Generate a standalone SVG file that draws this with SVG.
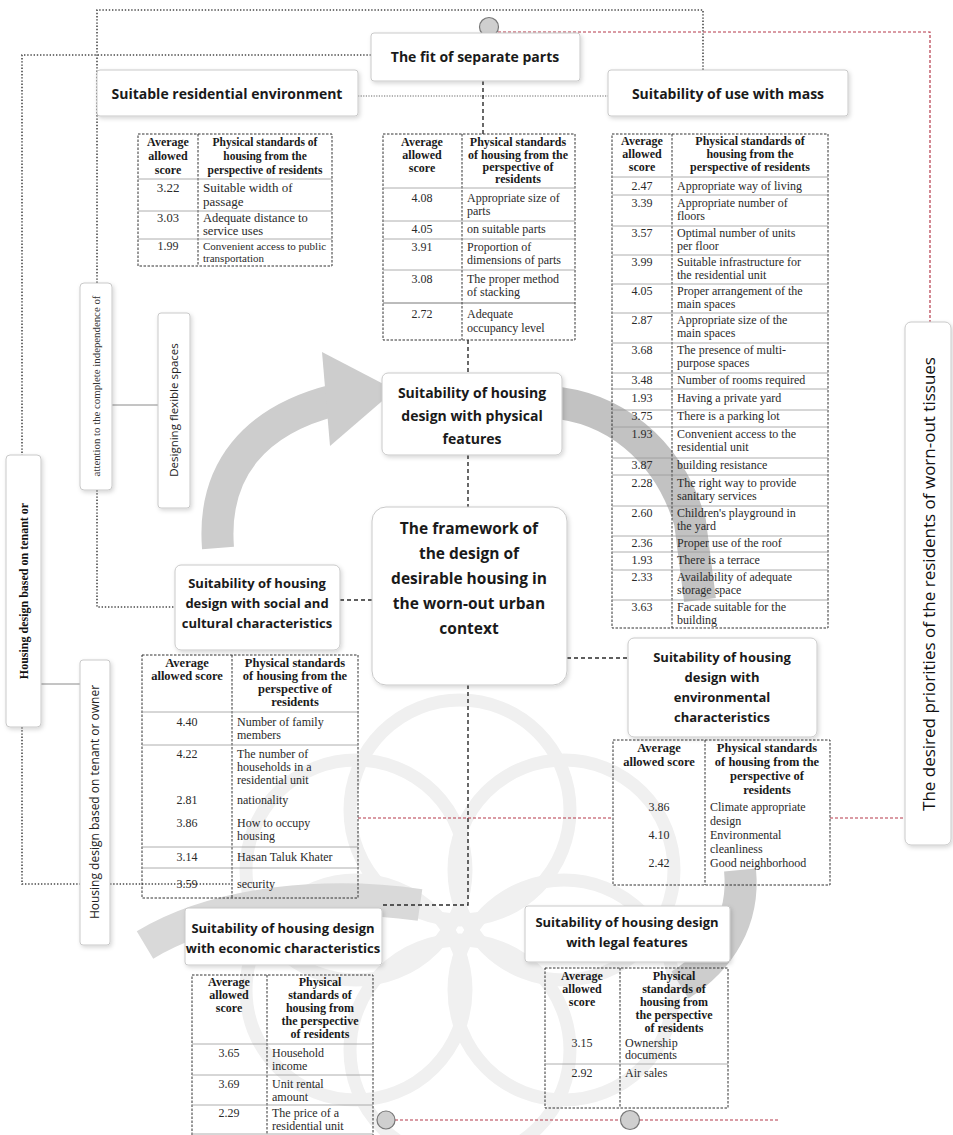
<svg xmlns="http://www.w3.org/2000/svg" width="953" height="1135" viewBox="0 0 953 1135">
<defs>
<filter id="sh" x="-10%" y="-10%" width="130%" height="140%">
<feDropShadow dx="1.5" dy="2" stdDeviation="2" flood-color="#000" flood-opacity="0.16"/>
</filter>
<style>
.bx{fill:#fff;stroke:#c9c9c9;stroke-width:1;filter:url(#sh)}
.bt{font-family:"Open Sans","Noto Sans",sans-serif;font-weight:700;font-size:13px;fill:#1a1a1a;text-anchor:middle}
.tb{fill:none;stroke:#333;stroke-width:1;stroke-dasharray:2.5 1.5}
.rs{stroke:#9a9a9a;stroke-width:0.8}
.h{font-family:"Liberation Serif",serif;font-weight:700;font-size:12px;fill:#1a1a1a;text-anchor:middle}
.c{font-family:"Liberation Serif",serif;font-size:12px;fill:#2a2a2a}
.n{font-family:"Liberation Serif",serif;font-size:12px;fill:#2a2a2a;text-anchor:middle}
.dot{fill:none;stroke:#4a4a4a;stroke-width:1.6;stroke-dasharray:1.4 1.8}
.gdot{fill:none;stroke:#9a9a9a;stroke-width:1.6;stroke-dasharray:1.2 1.4}
.dsh{fill:none;stroke:#2a2a2a;stroke-width:1.4;stroke-dasharray:4 3}
.red{fill:none;stroke:#b5394a;stroke-width:1.2;stroke-dasharray:3 2}
.sol{fill:none;stroke:#8a8a8a;stroke-width:1}
.cir{fill:#cfcfcf;stroke:#777;stroke-width:1.2}
.vt{font-family:"Liberation Serif",serif;font-size:10.8px;fill:#333;text-anchor:middle}
.vs{font-family:"Open Sans",sans-serif;font-size:11.5px;fill:#222;text-anchor:middle}
.arr{fill:none;stroke:#cdcdcd;stroke-width:32}
.ahd{fill:#cdcdcd}
.wm{fill:none;stroke:#f0f0f0;stroke-width:13}
</style>
</defs>
<rect x="0" y="0" width="953" height="1135" fill="#fff"/>

<g id="background">
<g class="wm">
<circle cx="460" cy="810" r="110"/>
<circle cx="564" cy="870" r="110"/>
<circle cx="564" cy="990" r="110"/>
<circle cx="460" cy="1050" r="110"/>
<circle cx="356" cy="990" r="110"/>
<circle cx="356" cy="870" r="110"/>
</g>
<path class="arr" d="M218 548 C212 470 255 420 335 400"/>
<polygon class="ahd" points="322,352 395,390 330,446"/>
<path class="arr" d="M548 402 C612 406 668 448 690 522 L700 600" style="stroke:#c2c2c2"/>
<path class="arr" d="M740 870 C745 920 720 960 680 985"/>
<path class="arr" d="M420 905 C330 892 220 900 145 945" style="stroke:#d9d9d9"/>
</g>

<g id="connectors">
<polyline class="dot" points="97,283 97,10 703,10 703,70"/>
<polyline class="dot" points="371,55 22,55 22,455"/>
<polyline class="dot" points="22,727 22,884 80,884"/>
<line class="dot" x1="110" y1="884" x2="232" y2="884"/>
<polyline class="dot" points="97,490 97,607 175,607"/>
<line class="gdot" x1="358" y1="96" x2="608" y2="96"/>
<line class="sol" x1="112" y1="405" x2="158" y2="405"/>
<line class="sol" x1="41" y1="684" x2="80" y2="684"/>
<line class="dsh" x1="483" y1="81" x2="483" y2="134"/>
<line class="dsh" x1="468" y1="340" x2="468" y2="373"/>
<line class="dsh" x1="468" y1="455" x2="468" y2="507"/>
<line class="dsh" x1="340" y1="600" x2="372" y2="600"/>
<line class="dsh" x1="567" y1="658" x2="628" y2="658"/>
<polyline class="dsh" points="468,685 468,905 382,905"/>
<polyline class="red" points="498,32 930,32 930,322"/>
<line class="red" x1="358" y1="818" x2="613" y2="818"/>
<line class="red" x1="830" y1="818" x2="905" y2="818"/>
<line class="red" x1="395" y1="1120" x2="780" y2="1120"/>
<circle class="cir" cx="489" cy="27" r="9.5"/>
<circle class="cir" cx="386" cy="1120" r="9"/>
<circle class="cir" cx="630" cy="1120" r="9.5"/>
</g>

<g id="fit">
<rect class="bx" x="371" y="33" width="209" height="48" rx="3"/>
<text class="bt" x="475" y="62" style="font-size:14px">The fit of separate parts</text>
</g>
<g id="residential">
<rect class="bx" x="97" y="70" width="261" height="46" rx="3"/>
<text class="bt" x="227" y="99" style="font-size:14px">Suitable residential environment</text>
</g>
<g id="mass">
<rect class="bx" x="608" y="70" width="240" height="46" rx="3"/>
<text class="bt" x="728" y="99" style="font-size:14px">Suitability of use with mass</text>
</g>
<g id="physical">
<rect class="bx" x="382" y="373" width="180" height="82" rx="6"/>
<text class="bt" x="472" y="398" style="font-size:14px">Suitability of housing</text>
<text class="bt" x="472" y="421" style="font-size:14px">design with physical</text>
<text class="bt" x="472" y="444" style="font-size:14px">features</text>
</g>
<g id="center">
<rect class="bx" x="372" y="507" width="195" height="178" rx="14"/>
<text class="bt" x="469" y="534" style="font-size:15.5px">The framework of</text>
<text class="bt" x="469" y="559" style="font-size:15.5px">the design of</text>
<text class="bt" x="469" y="584" style="font-size:15.5px">desirable housing in</text>
<text class="bt" x="469" y="609" style="font-size:15.5px">the worn-out urban</text>
<text class="bt" x="469" y="634" style="font-size:15.5px">context</text>
</g>
<g id="social">
<rect class="bx" x="175" y="565" width="165" height="85" rx="6"/>
<text class="bt" x="257" y="588">Suitability of housing</text>
<text class="bt" x="257" y="608">design with social and</text>
<text class="bt" x="257" y="628">cultural characteristics</text>
</g>
<g id="environmental">
<rect class="bx" x="628" y="638" width="189" height="99" rx="6"/>
<text class="bt" x="722" y="662">Suitability of housing</text>
<text class="bt" x="722" y="682">design with</text>
<text class="bt" x="722" y="702">environmental</text>
<text class="bt" x="722" y="722">characteristics</text>
</g>
<g id="economic">
<rect class="bx" x="185" y="908" width="197" height="57" rx="3"/>
<text class="bt" x="283" y="933">Suitability of housing design</text>
<text class="bt" x="283" y="953">with economic characteristics</text>
</g>
<g id="legal">
<rect class="bx" x="525" y="906" width="205" height="56" rx="3"/>
<text class="bt" x="627" y="927">Suitability of housing design</text>
<text class="bt" x="627" y="947">with legal features</text>
</g>
<g id="priorities">
<rect class="bx" x="905" y="322" width="46" height="523" rx="6"/>
<text transform="translate(935,584) rotate(-90)" style="font-family:'Open Sans',sans-serif;font-size:17px;fill:#111;text-anchor:middle">The desired priorities of the residents of worn-out tissues</text>
</g>
<g id="attention">
<rect class="bx" x="80" y="283" width="32" height="207" rx="4"/>
<text class="vt" transform="translate(100,386) rotate(-90)">attention to the complete independence of</text>
</g>
<g id="flexible">
<rect class="bx" x="158" y="313" width="32" height="195" rx="3"/>
<text class="vs" transform="translate(178,410) rotate(-90)">Designing flexible spaces</text>
</g>
<g id="tenantA">
<rect class="bx" x="6" y="455" width="35" height="272" rx="4"/>
<text transform="translate(28,591) rotate(-90)" style="font-family:'Liberation Serif',serif;font-weight:700;font-size:12px;fill:#111;text-anchor:middle">Housing design based on tenant or</text>
</g>
<g id="tenantB">
<rect class="bx" x="80" y="660" width="30" height="285" rx="3"/>
<text class="vs" transform="translate(99,802) rotate(-90)" style="font-size:12px">Housing design based on tenant or owner</text>
</g>

<g id="table-residential">
<rect class="tb" x="138" y="134" width="194" height="132"/>
<line class="tb" x1="198" y1="134" x2="198" y2="266"/>
<line class="rs" x1="138" y1="179" x2="332" y2="179"/>
<line class="rs" x1="138" y1="211" x2="332" y2="211"/>
<line class="rs" x1="138" y1="239" x2="332" y2="239"/>
<text class="h" x="168" y="146">Average</text><text class="h" x="168" y="160">allowed</text><text class="h" x="168" y="174">score</text>
<text class="h" x="265" y="146" style="font-size:11.5px">Physical standards of</text><text class="h" x="265" y="160" style="font-size:11.5px">housing from the</text><text class="h" x="265" y="174" style="font-size:11.5px">perspective of residents</text>
<text class="n" x="168" y="192" style="font-size:13px">3.22</text><text class="c" x="203" y="192" style="font-size:13px">Suitable width of</text><text class="c" x="203" y="206" style="font-size:13px">passage</text>
<text class="n" x="168" y="222" style="font-size:12.5px">3.03</text><text class="c" x="203" y="222" style="font-size:12.5px">Adequate distance to</text><text class="c" x="203" y="235" style="font-size:12.5px">service uses</text>
<text class="n" x="168" y="250">1.99</text><text class="c" x="203" y="250" style="font-size:11px">Convenient access to public</text><text class="c" x="203" y="262" style="font-size:11px">transportation</text>
</g>

<g id="table-fit">
<rect class="tb" x="383" y="134" width="192" height="206"/>
<line class="tb" x1="462" y1="134" x2="462" y2="340"/>
<line class="rs" x1="383" y1="188" x2="575" y2="188"/>
<line class="rs" x1="383" y1="221" x2="575" y2="221"/>
<line class="rs" x1="383" y1="239" x2="575" y2="239"/>
<line class="rs" x1="383" y1="270" x2="575" y2="270"/>
<line class="rs" x1="383" y1="303" x2="575" y2="303" style="stroke:#555"/>
<text class="h" x="422" y="146">Average</text><text class="h" x="422" y="159">allowed</text><text class="h" x="422" y="172">score</text>
<text class="h" x="518" y="146">Physical standards</text><text class="h" x="518" y="159">of housing from the</text><text class="h" x="518" y="171">perspective of</text><text class="h" x="518" y="183">residents</text>
<text class="n" x="422" y="202">4.08</text><text class="c" x="467" y="202">Appropriate size of</text><text class="c" x="467" y="215">parts</text>
<text class="n" x="422" y="233">4.05</text><text class="c" x="467" y="233">on suitable parts</text>
<text class="n" x="422" y="251">3.91</text><text class="c" x="467" y="251">Proportion of</text><text class="c" x="467" y="264">dimensions of parts</text>
<text class="n" x="422" y="283">3.08</text><text class="c" x="467" y="283">The proper method</text><text class="c" x="467" y="296">of stacking</text>
<text class="n" x="422" y="318">2.72</text><text class="c" x="467" y="318">Adequate</text><text class="c" x="467" y="332">occupancy level</text>
</g>

<g id="table-mass">
<rect class="tb" x="612" y="134" width="216" height="494"/>
<line class="tb" x1="672" y1="134" x2="672" y2="628"/>
<g class="rs">
<line x1="612" y1="177" x2="828" y2="177"/><line x1="612" y1="195" x2="828" y2="195"/>
<line x1="612" y1="226" x2="828" y2="226"/><line x1="612" y1="255" x2="828" y2="255"/>
<line x1="612" y1="284" x2="828" y2="284"/><line x1="612" y1="313" x2="828" y2="313"/>
<line x1="612" y1="343" x2="828" y2="343"/><line x1="612" y1="373" x2="828" y2="373"/>
<line x1="612" y1="389" x2="828" y2="389"/><line x1="612" y1="410" x2="828" y2="410"/>
<line x1="612" y1="427" x2="828" y2="427"/><line x1="612" y1="458" x2="828" y2="458"/>
<line x1="612" y1="475" x2="828" y2="475"/><line x1="612" y1="506" x2="828" y2="506"/>
<line x1="612" y1="536" x2="828" y2="536"/><line x1="612" y1="552" x2="828" y2="552"/>
<line x1="612" y1="570" x2="828" y2="570"/><line x1="612" y1="600" x2="828" y2="600"/>
</g>
<text class="h" x="642" y="145">Average</text><text class="h" x="642" y="158">allowed</text><text class="h" x="642" y="171">score</text>
<text class="h" x="750" y="145">Physical standards of</text><text class="h" x="750" y="158">housing from the</text><text class="h" x="750" y="171">perspective of residents</text>
<text class="n" x="642" y="190">2.47</text><text class="c" x="677" y="190">Appropriate way of living</text>
<text class="n" x="642" y="207">3.39</text><text class="c" x="677" y="207">Appropriate number of</text><text class="c" x="677" y="220">floors</text>
<text class="n" x="642" y="237">3.57</text><text class="c" x="677" y="237">Optimal number of units</text><text class="c" x="677" y="250">per floor</text>
<text class="n" x="642" y="266">3.99</text><text class="c" x="677" y="266">Suitable infrastructure for</text><text class="c" x="677" y="279">the residential unit</text>
<text class="n" x="642" y="295">4.05</text><text class="c" x="677" y="295">Proper arrangement of the</text><text class="c" x="677" y="308">main spaces</text>
<text class="n" x="642" y="324">2.87</text><text class="c" x="677" y="324">Appropriate size of the</text><text class="c" x="677" y="337">main spaces</text>
<text class="n" x="642" y="354">3.68</text><text class="c" x="677" y="354">The presence of multi-</text><text class="c" x="677" y="367">purpose spaces</text>
<text class="n" x="642" y="384">3.48</text><text class="c" x="677" y="384">Number of rooms required</text>
<text class="n" x="642" y="402">1.93</text><text class="c" x="677" y="402">Having a private yard</text>
<text class="n" x="642" y="420">3.75</text><text class="c" x="677" y="420">There is a parking lot</text>
<text class="n" x="642" y="438">1.93</text><text class="c" x="677" y="438">Convenient access to the</text><text class="c" x="677" y="451">residential unit</text>
<text class="n" x="642" y="469">3.87</text><text class="c" x="677" y="469">building resistance</text>
<text class="n" x="642" y="487">2.28</text><text class="c" x="677" y="487">The right way to provide</text><text class="c" x="677" y="500">sanitary services</text>
<text class="n" x="642" y="517">2.60</text><text class="c" x="677" y="517">Children's playground in</text><text class="c" x="677" y="530">the yard</text>
<text class="n" x="642" y="547">2.36</text><text class="c" x="677" y="547">Proper use of the roof</text>
<text class="n" x="642" y="564">1.93</text><text class="c" x="677" y="564">There is a terrace</text>
<text class="n" x="642" y="581">2.33</text><text class="c" x="677" y="581">Availability of adequate</text><text class="c" x="677" y="594">storage space</text>
<text class="n" x="642" y="611">3.63</text><text class="c" x="677" y="611">Facade suitable for the</text><text class="c" x="677" y="624">building</text>
</g>

<g id="table-social">
<rect class="tb" x="142" y="655" width="216" height="243"/>
<line class="tb" x1="232" y1="655" x2="232" y2="898"/>
<g class="rs">
<line x1="142" y1="712" x2="358" y2="712"/><line x1="142" y1="745" x2="358" y2="745"/>
<line x1="142" y1="847" x2="358" y2="847"/><line x1="142" y1="868" x2="358" y2="868"/>
</g>
<text class="h" x="187" y="667" style="font-size:12.5px">Average</text><text class="h" x="187" y="680" style="font-size:12.5px">allowed score</text>
<text class="h" x="295" y="667" style="font-size:12.5px">Physical standards</text><text class="h" x="295" y="680" style="font-size:12.5px">of housing from the</text><text class="h" x="295" y="693" style="font-size:12.5px">perspective of</text><text class="h" x="295" y="706" style="font-size:12.5px">residents</text>
<text class="n" x="187" y="726">4.40</text><text class="c" x="237" y="726">Number of family</text><text class="c" x="237" y="739">members</text>
<text class="n" x="187" y="758">4.22</text><text class="c" x="237" y="758">The number of</text><text class="c" x="237" y="771">households in a</text><text class="c" x="237" y="784">residential unit</text>
<text class="n" x="187" y="804">2.81</text><text class="c" x="237" y="804">nationality</text>
<text class="n" x="187" y="827">3.86</text><text class="c" x="237" y="827">How to occupy</text><text class="c" x="237" y="840">housing</text>
<text class="n" x="187" y="861">3.14</text><text class="c" x="237" y="861">Hasan Taluk Khater</text>
<text class="n" x="187" y="888">3.59</text><text class="c" x="237" y="888">security</text>
</g>

<g id="table-environmental">
<rect class="tb" x="613" y="740" width="217" height="145"/>
<line class="tb" x1="705" y1="740" x2="705" y2="885"/>
<text class="h" x="659" y="752" style="font-size:12.5px">Average</text><text class="h" x="659" y="766" style="font-size:12.5px">allowed score</text>
<text class="h" x="767" y="752" style="font-size:12.5px">Physical standards</text><text class="h" x="767" y="766" style="font-size:12.5px">of housing from the</text><text class="h" x="767" y="780" style="font-size:12.5px">perspective of</text><text class="h" x="767" y="794" style="font-size:12.5px">residents</text>
<text class="n" x="659" y="811">3.86</text><text class="c" x="710" y="811">Climate appropriate</text><text class="c" x="710" y="825">design</text>
<text class="n" x="659" y="839">4.10</text><text class="c" x="710" y="839">Environmental</text><text class="c" x="710" y="853">cleanliness</text>
<text class="n" x="659" y="867">2.42</text><text class="c" x="710" y="867">Good neighborhood</text>
</g>

<g id="table-economic">
<rect class="tb" x="192" y="975" width="181" height="175"/>
<line class="tb" x1="267" y1="975" x2="267" y2="1150"/>
<g class="rs">
<line x1="192" y1="1044" x2="373" y2="1044"/><line x1="192" y1="1075" x2="373" y2="1075"/>
<line x1="192" y1="1105" x2="373" y2="1105"/><line x1="192" y1="1134" x2="373" y2="1134"/>
</g>
<text class="h" x="229" y="986">Average</text><text class="h" x="229" y="999">allowed</text><text class="h" x="229" y="1012">score</text>
<text class="h" x="320" y="986">Physical</text><text class="h" x="320" y="999">standards of</text><text class="h" x="320" y="1012">housing from</text><text class="h" x="320" y="1025">the perspective</text><text class="h" x="320" y="1038">of residents</text>
<text class="n" x="229" y="1057">3.65</text><text class="c" x="272" y="1057">Household</text><text class="c" x="272" y="1070">income</text>
<text class="n" x="229" y="1088">3.69</text><text class="c" x="272" y="1088">Unit rental</text><text class="c" x="272" y="1101">amount</text>
<text class="n" x="229" y="1117">2.29</text><text class="c" x="272" y="1117">The price of a</text><text class="c" x="272" y="1130">residential unit</text>
</g>

<g id="table-legal">
<rect class="tb" x="545" y="968" width="183" height="140"/>
<line class="tb" x1="620" y1="968" x2="620" y2="1108"/>
<line class="rs" x1="545" y1="1064" x2="728" y2="1064"/>
<text class="h" x="582" y="980">Average</text><text class="h" x="582" y="993">allowed</text><text class="h" x="582" y="1006">score</text>
<text class="h" x="674" y="980">Physical</text><text class="h" x="674" y="993">standards of</text><text class="h" x="674" y="1006">housing from</text><text class="h" x="674" y="1019">the perspective</text><text class="h" x="674" y="1032">of residents</text>
<text class="n" x="582" y="1047">3.15</text><text class="c" x="625" y="1047">Ownership</text><text class="c" x="625" y="1059">documents</text>
<text class="n" x="582" y="1077">2.92</text><text class="c" x="625" y="1077">Air sales</text>
</g>
</svg>
